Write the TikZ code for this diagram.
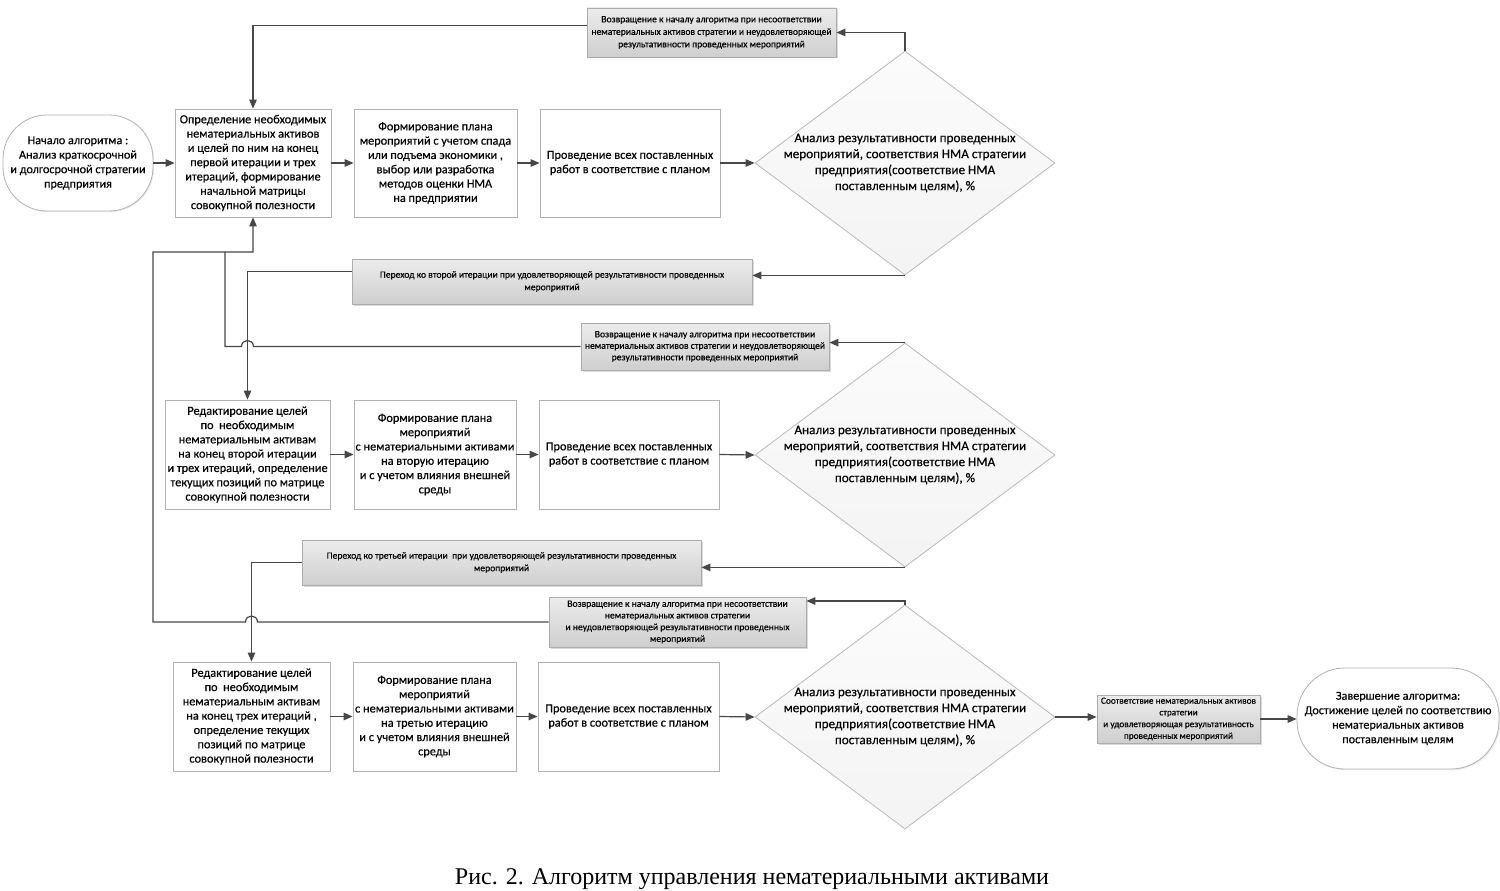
\documentclass[tikz,border=0pt]{standalone}
\usepackage{fontspec}
\setmainfont{Carlito}[FakeBold=0.35]
\newfontfamily\capfont{Liberation Serif}
\usetikzlibrary{shapes.geometric,arrows.meta,shadows,calc}
\tikzset{
  conn/.style={draw=black!72, line width=1.2pt},
  arr/.style={conn, -{Triangle[length=9pt,width=7.5pt]}},
  proc/.style={draw=gray!60, line width=0.8pt, fill=white, inner sep=0pt, align=center,
    font=\fontsize{12.3}{14.3}\selectfont,
    drop shadow={shadow xshift=1.2pt, shadow yshift=-1.2pt, fill=gray!30}},
  gbox/.style={draw=gray!65, line width=0.8pt, top color=gray!15, bottom color=gray!38,
    inner sep=0pt, align=center, font=\fontsize{9.6}{12.5}\selectfont,
    drop shadow={shadow xshift=1.5pt, shadow yshift=-1.5pt, fill=gray!55}},
  term/.style={draw=gray!60, line width=0.8pt, fill=white, inner sep=0pt, align=center,
    font=\fontsize{12.2}{14.5}\selectfont,
    drop shadow={shadow xshift=1.2pt, shadow yshift=-1.2pt, fill=gray!30}},
  dec/.style={diamond, draw=gray!55, line width=0.8pt, top color=gray!3, bottom color=gray!9,
    inner sep=0pt, minimum width=300pt, minimum height=224pt},
  dtext/.style={align=center, inner sep=0pt, font=\fontsize{13.2}{16}\selectfont},
  captext/.style={font=\capfont\fontsize{24}{28}\selectfont, inner sep=0pt}
}
\begin{document}
\begin{tikzpicture}[x=1pt,y=-1pt]
\useasboundingbox[fill=white] (0,0) rectangle (1500,891);

% ---- row 1
\node[term, rounded corners=44pt, minimum width=150pt, minimum height=96pt] (st) at (78,163)
  {Начало алгоритма :\\Анализ краткосрочной\\и долгосрочной стратегии\\предприятия};
\node[proc, minimum width=156pt, minimum height=108pt] (a1) at (253,163)
  {Определение необходимых\\нематериальных активов\\и целей по ним на конец\\первой итерации и трех\\итераций, формирование\\начальной матрицы\\совокупной полезности};
\node[proc, minimum width=163pt, minimum height=108pt] (a2) at (435.5,163)
  {Формирование плана\\мероприятий с учетом спада\\или подъема экономики ,\\выбор или разработка\\методов оценки НМА\\на предприятии};
\node[proc, minimum width=180pt, minimum height=108pt] (a3) at (630,163)
  {Проведение всех поставленных\\работ в соответствие с планом};
\node[dec, label={[dtext]center:{Анализ результативности проведенных\\мероприятий, соответствия НМА стратегии\\предприятия(соответствие НМА\\поставленным целям), \%}}] (d1) at (905,163) {};
\node[gbox, minimum width=249pt, minimum height=49pt] (r1) at (711.5,32.5)
  {Возвращение к началу алгоритма при несоответствии\\нематериальных активов стратегии и неудовлетворяющей\\результативности проведенных мероприятий};
\node[gbox, minimum width=400pt, minimum height=45pt] (t1) at (552,281.5)
  {Переход ко второй итерации при удовлетворяющей результативности проведенных\\мероприятий};
\node[gbox, minimum width=248pt, minimum height=47pt, font=\fontsize{9.6}{11.5}\selectfont] (r2) at (705,346.5)
  {Возвращение к началу алгоритма при несоответствии\\нематериальных активов стратегии и неудовлетворяющей\\результативности проведенных мероприятий};

% ---- row 2
\node[proc, minimum width=165pt, minimum height=109pt] (b1) at (247.5,454.5)
  {Редактирование целей\\по\ \ необходимым\\нематериальным активам\\на конец второй итерации\\и трех итераций, определение\\текущих позиций по матрице\\совокупной полезности};
\node[proc, minimum width=162pt, minimum height=109pt] (b2) at (435,454.5)
  {Формирование плана\\мероприятий\\с нематериальными активами\\на вторую итерацию\\и с учетом влияния внешней\\среды};
\node[proc, minimum width=180pt, minimum height=109pt] (b3) at (629,454.5)
  {Проведение всех поставленных\\работ в соответствие с планом};
\node[dec, label={[dtext]center:{Анализ результативности проведенных\\мероприятий, соответствия НМА стратегии\\предприятия(соответствие НМА\\поставленным целям), \%}}] (d2) at (905,455) {};
\node[gbox, minimum width=399pt, minimum height=45pt] (t2) at (501.5,562.5)
  {Переход ко третьей итерации\ \ при удовлетворяющей результативности проведенных\\мероприятий};
\node[gbox, minimum width=257pt, minimum height=50pt, font=\fontsize{9.6}{11.7}\selectfont] (r3) at (677.5,622)
  {Возвращение к началу алгоритма при несоответствии\\нематериальных активов стратегии\\и неудовлетворяющей результативности проведенных\\мероприятий};

% ---- row 3
\node[proc, minimum width=157pt, minimum height=109pt] (c1) at (251.5,716.5)
  {Редактирование целей\\по\ \ необходимым\\нематериальным активам\\на конец трех итераций ,\\определение текущих\\позиций по матрице\\совокупной полезности};
\node[proc, minimum width=163pt, minimum height=109pt] (c2) at (434.5,716.5)
  {Формирование плана\\мероприятий\\с нематериальными активами\\на третью итерацию\\и с учетом влияния внешней\\среды};
\node[proc, minimum width=181pt, minimum height=109pt] (c3) at (628.5,716.5)
  {Проведение всех поставленных\\работ в соответствие с планом};
\node[dec, label={[dtext]center:{Анализ результативности проведенных\\мероприятий, соответствия НМА стратегии\\предприятия(соответствие НМА\\поставленным целям), \%}}] (d3) at (905,717) {};
\node[gbox, minimum width=163pt, minimum height=48pt, font=\fontsize{9.3}{11.7}\selectfont] (s) at (1178.5,719)
  {Соответствие нематериальных активов\\стратегии\\и удовлетворяющая результативность\\проведенных мероприятий};
\node[term, rounded corners=48pt, minimum width=202pt, minimum height=101pt] (en) at (1398,718.5)
  {Завершение алгоритма:\\Достижение целей по соответствию\\нематериальных активов\\поставленным целям};

\node[captext, anchor=base] (cap) at (752,884) {Рис. 2. Алгоритм управления нематериальными активами};

% ---- connectors in rows
\draw[arr] (st.east) -- (a1.west);
\draw[arr] (a1.east) -- (a2.west);
\draw[arr] (a2.east) -- (a3.west);
\draw[arr] (a3.east) -- (d1.west);
\draw[arr] (b1.east) -- (b2.west);
\draw[arr] (b2.east) -- (b3.west);
\draw[arr] (b3.east) -- (d2.west);
\draw[arr] (c1.east) -- (c2.west);
\draw[arr] (c2.east) -- (c3.west);
\draw[arr] (c3.east) -- (d3.west);
\draw[arr] (d3.east) -- (d3.east -| s.west);
\draw[arr] (s.east) -- (s.east -| en.west);

% ---- loops
\draw[arr] (d1.north) |- (r1.east);
\draw[arr] ([yshift=7pt]r1.west) -| (a1.north);
\draw[arr] (d1.south) -- (d1.south -| t1.east);
\draw[arr] ([yshift=10pt]t1.west) -| (b1.north);
\draw[arr] (d2.north) -- (d2.north -| r2.east);
\draw[arr] (d2.south) -- (d2.south -| t2.east);
\draw[arr] (t2.west) -| (c1.north);
\draw[arr] (d3.north) |- ([yshift=21pt]r3.east);

\coordinate (j1) at (225,252);
\coordinate (j2) at (153,252);
\coordinate (j3) at (a1.south |- j1);
\draw[conn] (r2.west) -- (253.5,346.5) .. controls (253.5,338.5) and (241.5,338.5) .. (241.5,346.5)
  -- (225,346.5) -- (j1);
\draw[arr] (r3.west) -- (257.5,622) .. controls (257.5,614) and (245.5,614) .. (245.5,622)
  -- (153,622) -- (j2) -- (j3) -- (a1.south);
\end{tikzpicture}
\end{document}
